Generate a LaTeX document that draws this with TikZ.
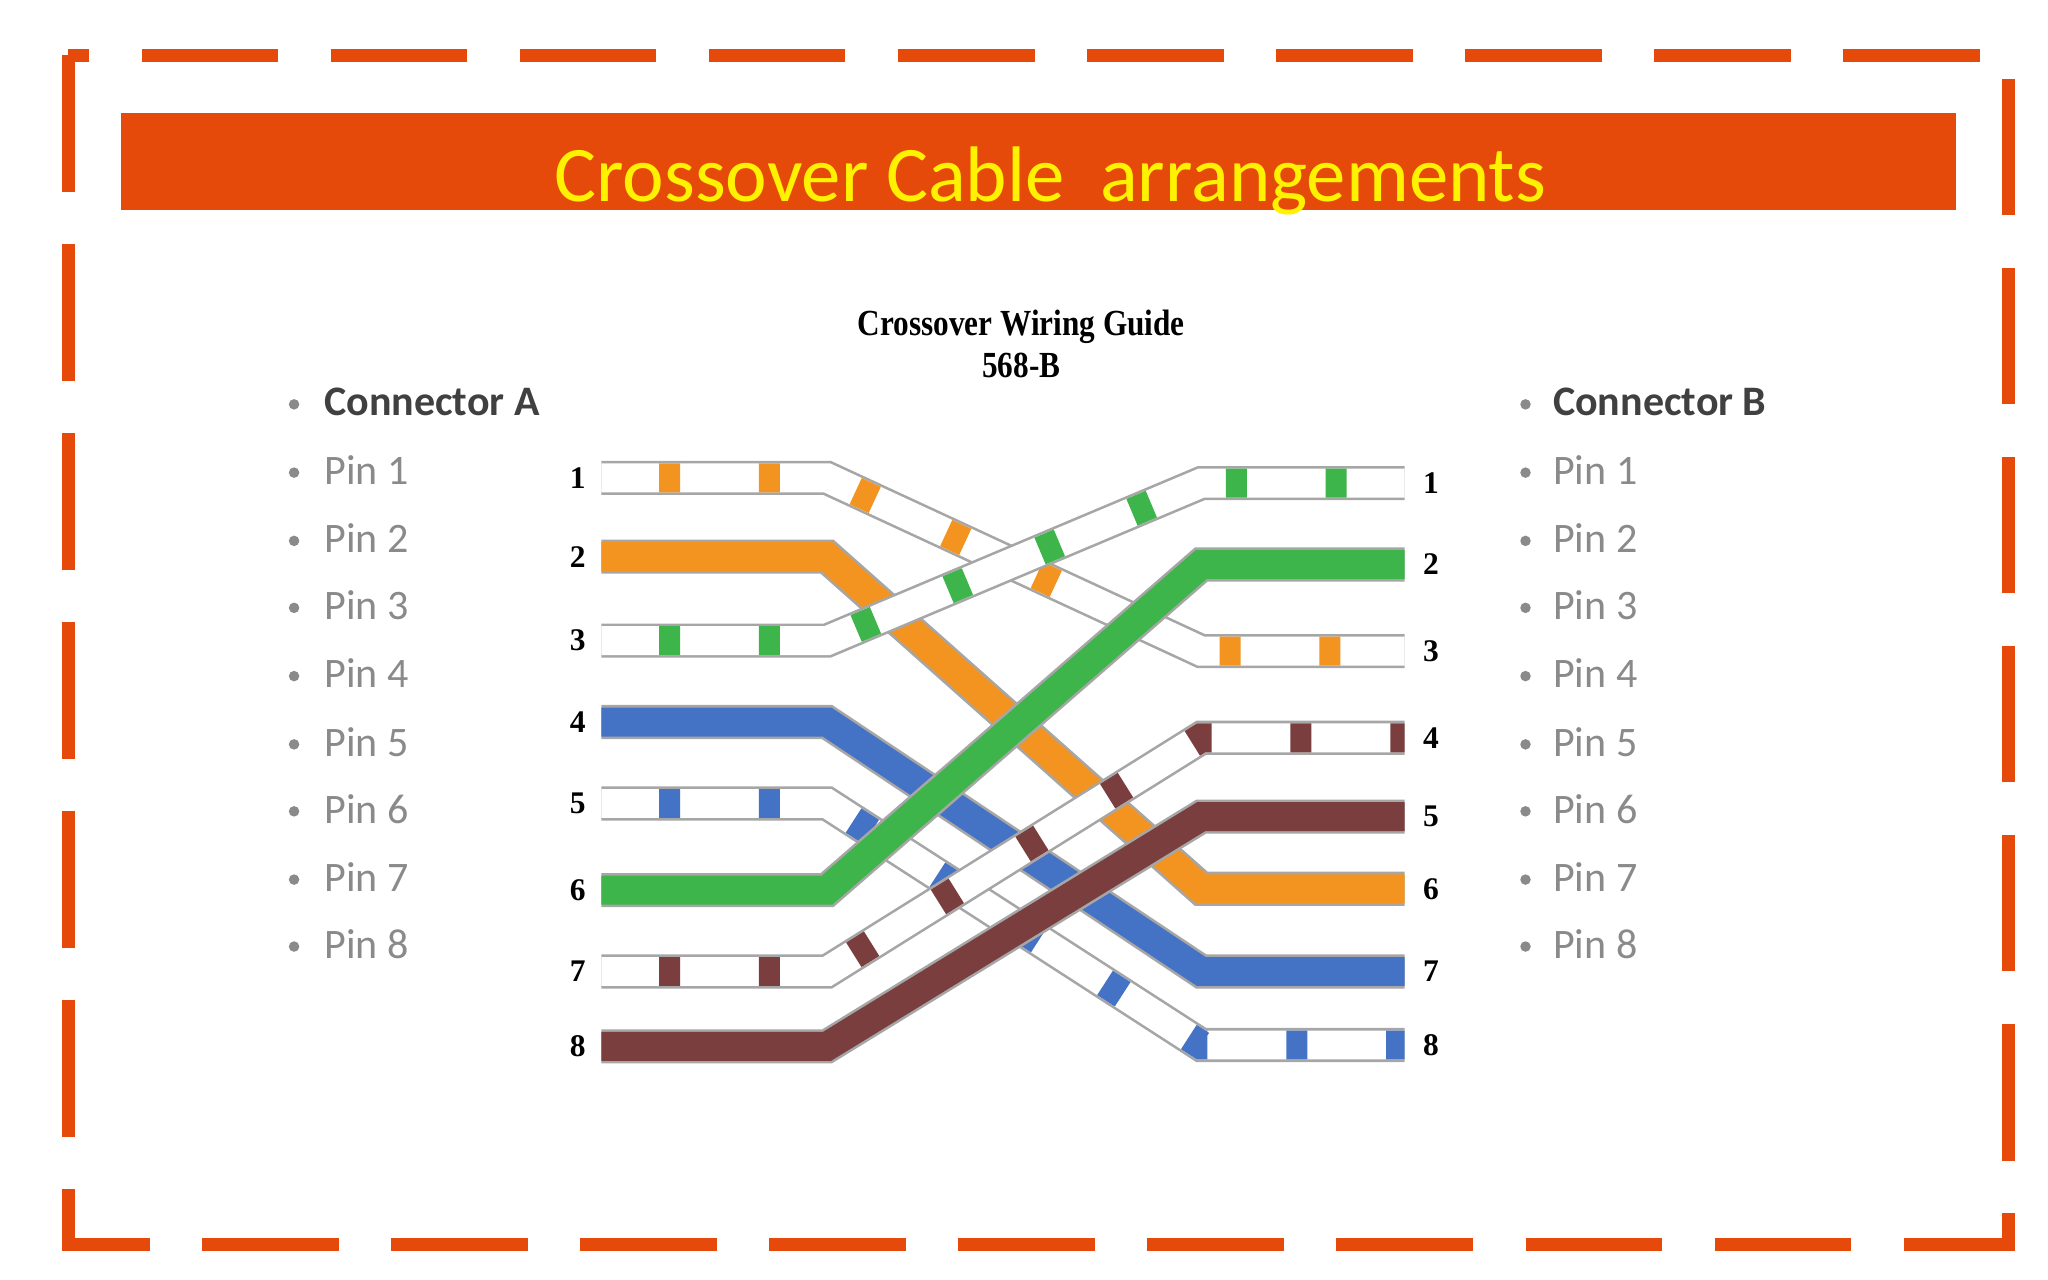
\documentclass[tikz,border=0pt]{standalone}
\usepackage{fontspec}
\setmainfont{Carlito}
\newfontfamily\serifnarrow{Liberation Serif}
\definecolor{frame}{HTML}{E64A0A}
\definecolor{wor}{HTML}{F39420}
\definecolor{wgr}{HTML}{3DB54A}
\definecolor{wbl}{HTML}{4472C4}
\definecolor{wbr}{HTML}{7A3E3E}
\definecolor{pin}{HTML}{8A8A8A}
\tikzset{
  edge/.style={line width=13pt,draw=gray!70},
  pinlabel/.style={anchor=west,text=pin,font=\fontsize{16}{16}\selectfont},
  conlabel/.style={anchor=west,text=black!75,font=\bfseries\fontsize{16}{16}\selectfont},
  bul/.style={circle,fill=pin,inner sep=0pt,minimum size=4pt},
  num/.style={font=\serifnarrow\bfseries\fontsize{12}{12}\selectfont}
}
\begin{document}
\begin{tikzpicture}[x=0.5pt,y=-0.5pt]
\useasboundingbox (0,0) rectangle (1560,975);
\draw[frame,line width=5pt,dash pattern=on 52pt off 20pt] (52,42) rectangle (1530,948);
\node[fill=frame,minimum width=699pt,minimum height=37pt,inner sep=0pt] (bar) at (791,123) {};
\node[text=yellow,font=\fontsize{30}{30}\selectfont] (title) at (800,138) {Crossover Cable\ \ arrangements};
\node[font=\serifnarrow\bfseries\fontsize{14}{16}\selectfont,align=center,xscale=0.85] (guide) at (778,262) {Crossover Wiring Guide\\568-B};
% lists
\node[bul] (ba) at (224,308) {}; \node[conlabel] (ca) at (240,306) {Connector A};
\node[bul] (bb) at (1162,308) {}; \node[conlabel] (cb) at (1176,306) {Connector B};
\foreach \i/\y in {1/358,2/410,3/461,4/513,5/565,6/616,7/668,8/719}{
  \node[bul] (bla\i) at (224,\y+2) {}; \node[pinlabel] (pa\i) at (240,\y) {Pin \i};
  \node[bul] (blb\i) at (1162,\y+2) {}; \node[pinlabel] (pb\i) at (1176,\y) {Pin \i};
}
% coordinates
\foreach \i/\y in {1/364,2/424,3/488,4/550,5/612,6/678,7/740,8/797}{
  \coordinate (L\i) at (458,\y); \coordinate (LB\i) at (630,\y);
  \node[num] (nl\i) at (440,\y) {\i};
}
\foreach \i/\y in {1/368,2/430,3/496,4/562,5/622,6/677,7/740,8/796}{
  \coordinate (R\i) at (1070,\y); \coordinate (RB\i) at (915,\y);
  \node[num] (nr\i) at (1090,\y) {\i};
}
% wires: left/right/color/striped
\foreach \a/\b/\c/\s in {5/8/wbl/1,1/3/wor/1,2/6/wor/0,4/7/wbl/0,6/2/wgr/0,3/1/wgr/1,7/4/wbr/1,8/5/wbr/0}{
  \draw[edge] (L\a) -- (LB\a) -- (RB\b) -- (R\b);
  \ifnum\s=1
    \draw[line width=11pt,white] (L\a) -- (LB\a) -- (RB\b) -- (R\b);
    \draw[line width=11pt,draw=\c,dash pattern=on 8pt off 30pt,dash phase=-22pt] (L\a) -- (LB\a) -- (RB\b) -- (R\b);
  \else
    \draw[line width=11pt,draw=\c] (L\a) -- (LB\a) -- (RB\b) -- (R\b);
  \fi
}
\end{tikzpicture}
\end{document}
